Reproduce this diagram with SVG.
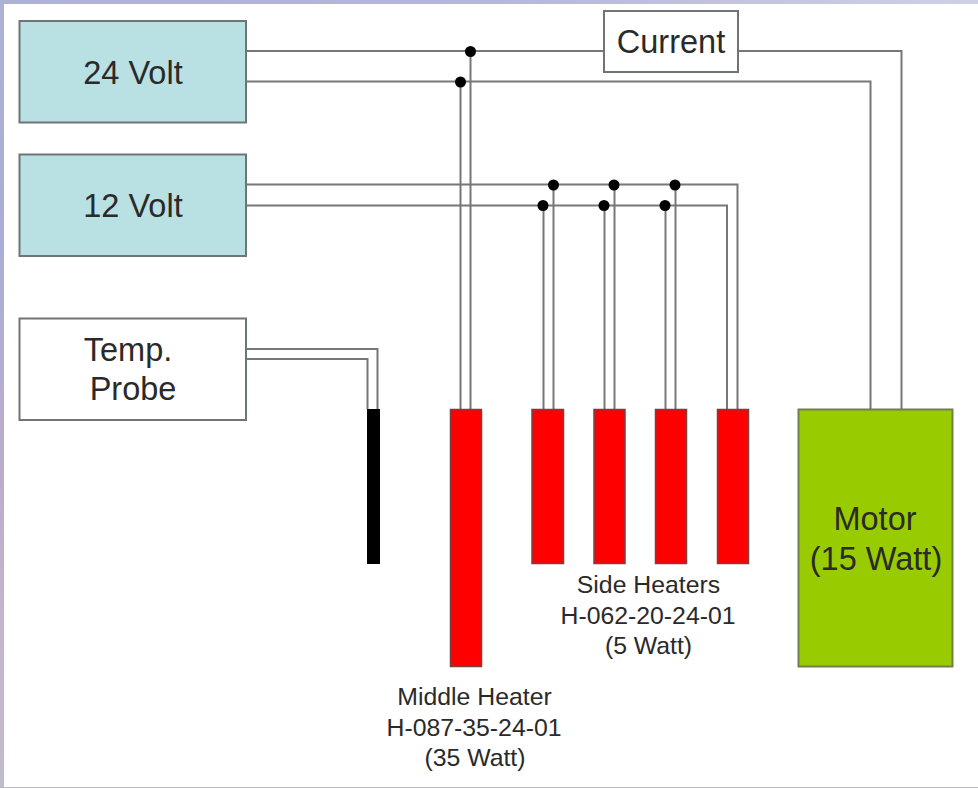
<svg xmlns="http://www.w3.org/2000/svg" width="978" height="788" viewBox="0 0 978 788">
<defs>
<linearGradient id="bgv" x1="0" y1="0" x2="0" y2="1">
<stop offset="0" stop-color="#aeb1d6"/><stop offset="0.3" stop-color="#a9aed8"/><stop offset="0.6" stop-color="#bcaccb"/><stop offset="0.8" stop-color="#c5b5cd"/><stop offset="1" stop-color="#c0bccb"/>
</linearGradient>
<linearGradient id="bgh" x1="0" y1="0" x2="1" y2="0">
<stop offset="0" stop-color="#aeb1d6"/><stop offset="0.5" stop-color="#b4b7da"/><stop offset="1" stop-color="#cfd0e6"/>
</linearGradient>
</defs>
<style>
text{font-family:"Liberation Sans",Arial,sans-serif;fill:#2a2a2a;text-anchor:middle}
.big{font-size:32.500px}
.small{font-size:24.800px}
.box{stroke:#6f7474;stroke-width:2}
.wire{fill:none;stroke:#777;stroke-width:2}
.heater{fill:#ff0000;stroke:#7a4040;stroke-width:1.500}
.dot{fill:#000}
</style>
<rect width="978" height="788" fill="#fff"/>
<rect width="4" height="788" fill="url(#bgv)"/>
<rect width="978" height="4" fill="url(#bgh)"/>
<rect y="787" width="978" height="1" fill="#b8b8c0"/>
<g id="connectors">
<path class="wire" d="M246 51H604"/>
<path class="wire" d="M738 51H901.500V409"/>
<path class="wire" d="M246 81.500H870.500V409"/>
<path class="wire" d="M460.500 81.500V409"/>
<path class="wire" d="M470.500 51V409"/>
<path class="wire" d="M246 184.500H737.500V409"/>
<path class="wire" d="M246 205.500H727V409"/>
<path class="wire" d="M543.500 205.500V409"/>
<path class="wire" d="M553.500 184.500V409"/>
<path class="wire" d="M604.500 205.500V409"/>
<path class="wire" d="M614.500 184.500V409"/>
<path class="wire" d="M665.500 205.500V409"/>
<path class="wire" d="M675.500 184.500V409"/>
<path class="wire" d="M246 349H377.500V409"/>
<path class="wire" d="M246 359H367.500V409"/>
<circle class="dot" cx="470.500" cy="51.500" r="5.500"/>
<circle class="dot" cx="460.500" cy="82" r="5.500"/>
<circle class="dot" cx="553.500" cy="185" r="5.500"/>
<circle class="dot" cx="614" cy="185" r="5.500"/>
<circle class="dot" cx="675" cy="185" r="5.500"/>
<circle class="dot" cx="543" cy="205.500" r="5.500"/>
<circle class="dot" cx="604" cy="205.500" r="5.500"/>
<circle class="dot" cx="665" cy="205.500" r="5.500"/>
</g>
<g id="v24"><rect class="box" x="19.500" y="21" width="226.500" height="101.500" fill="#b9e0e3"/><text class="big" x="133" y="84">24 Volt</text></g>
<g id="v12"><rect class="box" x="19.500" y="154.500" width="226.500" height="101.500" fill="#b9e0e3"/><text class="big" x="133" y="217">12 Volt</text></g>
<g id="current"><rect class="box" x="604" y="11" width="134" height="61" fill="#fff"/><text class="big" x="671" y="53">Current</text></g>
<g id="probe"><rect class="box" x="19.500" y="318.500" width="226.500" height="101.500" fill="#fff"/><text class="big" x="128" y="361">Temp.</text><text class="big" x="133" y="400">Probe</text></g>
<g id="sensor"><rect x="367" y="409" width="13" height="155" fill="#000"/></g>
<g id="middle-heater"><rect class="heater" x="450.500" y="409.500" width="31" height="257"/><text class="small" x="474.500" y="705">Middle Heater</text><text class="small" x="474" y="736">H-087-35-24-01</text><text class="small" x="475" y="766">(35 Watt)</text></g>
<g id="side-heater-1"><rect class="heater" x="532" y="409.500" width="31.500" height="154"/></g>
<g id="side-heater-2"><rect class="heater" x="594" y="409.500" width="31" height="154"/></g>
<g id="side-heater-3"><rect class="heater" x="655.500" y="409.500" width="31" height="154"/></g>
<g id="side-heater-4"><rect class="heater" x="717.500" y="409.500" width="31" height="154"/></g>
<g id="side-label"><text class="small" x="648.500" y="593">Side Heaters</text><text class="small" x="648" y="624">H-062-20-24-01</text><text class="small" x="648.500" y="654">(5 Watt)</text></g>
<g id="motor"><rect x="798.500" y="409.500" width="154" height="257" fill="#99cc00" stroke="#6f7f50" stroke-width="2"/><text class="big" x="875" y="530">Motor</text><text class="big" x="876" y="570">(15 Watt)</text></g>
</svg>
